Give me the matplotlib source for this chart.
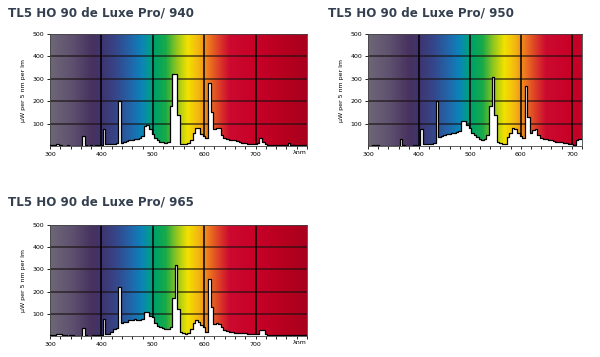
import numpy as np
import matplotlib
matplotlib.use("Agg")
import matplotlib.pyplot as plt
from matplotlib.colors import LinearSegmentedColormap

titles = ["TL5 HO 90 de Luxe Pro/ 940", "TL5 HO 90 de Luxe Pro/ 950", "TL5 HO 90 de Luxe Pro/ 965"]

wl_940 = list(range(300, 805, 5))
val_940 = [3, 4, 5, 8, 4, 2, 2, 3, 2, 2, 2, 2, 2, 45, 3, 2, 3, 2, 3, 3,
           5, 75, 8, 8, 9, 10, 12, 200, 15, 18, 22, 25, 28, 30, 33, 35, 45, 90, 95, 75,
           55, 35, 25, 20, 18, 15, 20, 180, 320, 320, 140, 10, 10, 10, 12, 25, 60, 80, 80, 55,
           45, 35, 280, 150, 75, 80, 80, 50, 35, 30, 28, 26, 25, 22, 18, 15, 12, 11, 10, 10,
           10, 12, 35, 20, 8, 6, 5, 5, 5, 4, 4, 4, 5, 12, 5, 4, 3, 3, 3, 3, 3]

wl_950 = list(range(300, 725, 5))
val_950 = [2, 2, 3, 5, 3, 2, 2, 2, 2, 2, 2, 2, 2, 30, 3, 2, 2, 2, 3, 3,
           4, 75, 8, 8, 9, 10, 12, 200, 40, 45, 48, 52, 55, 58, 60, 62, 65, 110, 110, 95,
           80, 60, 50, 40, 30, 25, 30, 50, 180, 310, 140, 20, 15, 10, 10, 40, 60, 80, 75, 60,
           45, 35, 270, 130, 60, 70, 75, 50, 35, 32, 30, 28, 25, 22, 20, 19, 18, 15, 12, 11,
           10, 5, 25, 30, 30]

wl_965 = list(range(300, 805, 5))
val_965 = [3, 3, 4, 10, 8, 3, 3, 2, 3, 4, 2, 2, 2, 35, 3, 2, 2, 3, 3, 3,
           5, 75, 10, 10, 20, 30, 35, 220, 60, 62, 65, 70, 72, 75, 73, 72, 75, 110, 110, 90,
           85, 60, 45, 40, 35, 30, 30, 40, 170, 320, 120, 20, 15, 10, 12, 30, 60, 70, 65, 50,
           40, 20, 255, 130, 55, 60, 55, 40, 25, 22, 20, 18, 15, 14, 12, 12, 12, 10, 8, 8,
           8, 10, 25, 25, 8, 5, 4, 4, 4, 4, 4, 4, 4, 5, 4, 3, 3, 3, 3, 3, 3]

yticks = [100, 200, 300, 400, 500]
xticks = [300, 400, 500, 600, 700]
ylabel = "µW per 5 nm per lm"

# spectrum background colours (wavelength, colour)
stops = [(300, "#6e6676"), (340, "#5f5270"), (380, "#48325f"), (400, "#3f346e"),
         (430, "#34488c"), (460, "#1f6aad"), (480, "#0a86b8"), (495, "#039c86"),
         (505, "#00a266"), (525, "#18aa48"), (545, "#8cc420"), (568, "#f2e200"),
         (590, "#f4b412"), (610, "#ec7420"), (630, "#dc3c28"), (650, "#cc0a30"),
         (700, "#c80028"), (760, "#b6001f"), (800, "#a8001e")]
cmap = LinearSegmentedColormap.from_list(
    "spec", [((w - 300) / 500, c) for w, c in stops])

fig = plt.figure(figsize=(6, 3.57), dpi=100)
title_color = "#34404f"

def panel(rect, wl, val, xmax, title, title_xy, lam_label):
    ax = fig.add_axes(rect)
    grad = np.linspace(300, xmax, 600)[None, :]
    ax.imshow((grad - 300) / 500, cmap=cmap, vmin=0, vmax=1, aspect="auto",
              extent=[300, xmax, 0, 500], origin="lower", zorder=0, interpolation="bilinear")
    for y in [100, 200, 300, 400]:
        ax.axhline(y, color="#1a1010", lw=1.1, alpha=0.75, zorder=1)
    for x in [400, 500, 600, 700]:
        ax.axvline(x, color="black", lw=1.1, zorder=1)
    ax.fill_between(wl, val, 0, step="mid", color="white", zorder=2, lw=0)
    ax.plot(wl, val, drawstyle="steps-mid", color="black", lw=0.9, zorder=3)
    ax.set_xlim(300, xmax)
    ax.set_ylim(0, 500)
    ax.set_yticks(yticks)
    ax.set_yticklabels([str(t) for t in yticks], fontsize=4.5)
    ax.set_xticks(xticks)
    ax.set_xticklabels([str(t) for t in xticks], fontsize=4.5)
    ax.set_xticks(list(range(300, xmax + 1, 20)), minor=True)
    ax.tick_params(axis="x", which="minor", length=2, width=0.6)
    ax.tick_params(axis="both", which="major", length=2.5, width=0.6, pad=1.5)
    ax.set_ylabel(ylabel, fontsize=4.5, labelpad=5)
    for s in ax.spines.values():
        s.set_linewidth(0.6)
        s.set_color("#444444")
    fig.text(title_xy[0] / 600, 1 - title_xy[1] / 357, title, fontsize=8.6,
             fontweight="bold", color=title_color, ha="left", va="baseline",
             family="DejaVu Sans")
    if lam_label:
        ax.text(xmax, -18, "λnm", fontsize=4.5, ha="right", va="top")
    return ax

panel([50 / 600, 1 - 146 / 357, 257 / 600, 112 / 357], wl_940, val_940, 800,
      titles[0], (8, 16), True)
panel([368 / 600, 1 - 146 / 357, 214 / 600, 112 / 357], wl_950, val_950, 720,
      titles[1], (328, 16), False)
panel([50 / 600, 1 - 336 / 357, 257 / 600, 111 / 357], wl_965, val_965, 800,
      titles[2], (8, 206), True)

fig.savefig("out.png", dpi=100)
